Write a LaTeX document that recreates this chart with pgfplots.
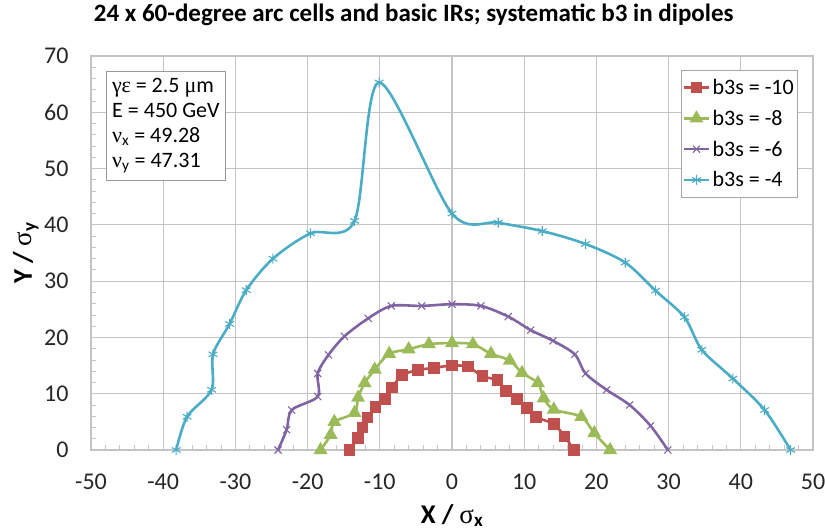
\documentclass[border=0pt]{standalone}
\usepackage{pgfplots}
\pgfplotsset{compat=1.18}
\usepackage{fontspec}
\setmainfont{Carlito}
\newfontfamily\grk{Liberation Serif}
\definecolor{cred}{HTML}{C0504D}
\definecolor{cgreen}{HTML}{9BBB59}
\definecolor{cpurple}{HTML}{8064A2}
\definecolor{ccyan}{HTML}{4BACC6}
\definecolor{gridc}{HTML}{C4C4C4}
\begin{document}
\begin{tikzpicture}
\useasboundingbox (0,0) rectangle (825pt,531pt);
\begin{axis}[
  at={(91pt,81pt)}, anchor=south west,
  scale only axis, width=722pt, height=394pt,
  xmin=-50, xmax=50, ymin=0, ymax=70,
  xtick={-50,-40,...,50}, ytick={0,10,...,70},
  minor x tick num=4, minor y tick num=4,
  xtick pos=bottom, ytick pos=left,
  tick align=inside,
  major tick length=0pt, minor tick length=5pt,
  minor tick style={gridc, line width=0.8pt},
  grid=major,
  major grid style={gridc, line width=1.1pt},
  axis line style={gridc, line width=1.1pt},
  /pgf/number format/assume math mode=true,
  ticklabel style={font=\fontsize{24}{28}\selectfont, text=black!85},
  xticklabel style={anchor=center, yshift=-32pt},
  yticklabel style={anchor=east, xshift=-19pt},
  title={24 x 60-degree arc cells and basic IRs; systematic b3 in dipoles},
  title style={font=\bfseries\fontsize{25}{29}\selectfont, at={(axis description cs:0.447,1)}, anchor=base, yshift=28.5pt},
  xlabel={X / {\grk\mdseries σ}\textsubscript{x}},
  ylabel={Y / {\grk\mdseries σ}\textsubscript{y}},
  label style={font=\bfseries\fontsize{27}{30}\selectfont},
  xlabel style={at={(axis description cs:0.5,0)}, anchor=base, yshift=-73pt},
  ylabel style={at={(axis description cs:0,0.5)}, anchor=base, yshift=59pt},
  legend style={draw=gray!70, at={(1,1)}, anchor=north east, xshift=-16pt, yshift=-14pt,
    font=\fontsize{22}{26}\selectfont, row sep=10pt, inner xsep=1pt, inner ysep=7pt},
  legend cell align=left,
  legend image code/.code={\draw[mark repeat=2,mark phase=2] plot coordinates {(0cm,0cm) (0.45cm,0cm) (0.9cm,0cm)};},
]
\addplot[cred, line width=2.6pt, smooth, mark=square*, mark size=4.5pt, mark options={solid}] coordinates {
(-14.2,0) (-13.0,2.1) (-12.4,4.0) (-11.7,5.8) (-10.6,7.6) (-9.3,9.1) (-8.3,11.1) (-6.9,13.3)
(-4.7,14.2) (-2.5,14.6) (0,15.0) (2.2,14.8) (4.2,13.1) (6.3,12.4) (7.5,10.5) (9.0,9.1)
(10.4,7.5) (11.6,5.9) (14.1,4.6) (15.6,2.4) (16.9,0)};
\addlegendentry{b3s = -10}
\addplot[cgreen, line width=2.6pt, smooth, mark=triangle*, mark size=5.5pt, mark options={solid}] coordinates {
(-18.2,0) (-16.8,2.7) (-16.3,5.0) (-13.5,6.6) (-13.0,9.3) (-12.1,11.9) (-10.7,14.3) (-8.7,17.1)
(-6.0,17.9) (-3.2,18.8) (0,19.0) (2.9,18.8) (5.4,17.1) (8.0,15.9) (9.7,13.7) (11.9,11.9)
(12.7,9.2) (14.1,7.2) (17.9,5.9) (19.7,3.0) (21.9,0)};
\addlegendentry{b3s = -8}
\addplot[cpurple, line width=2.6pt, smooth, mark=x, mark size=5pt, mark options={solid, line width=1.1pt}] coordinates {
(-24.1,0) (-22.9,3.6) (-22.2,7.1) (-18.6,9.5) (-18.6,13.6) (-17.1,16.9) (-14.9,20.2) (-11.6,23.4)
(-8.4,25.6) (-4.2,25.6) (0,25.9) (4.0,25.6) (7.8,23.7) (10.9,21.3) (14.0,19.4) (17.0,17.0)
(18.5,13.6) (21.4,10.7) (24.6,8.0) (27.5,4.3) (29.9,0)};
\addlegendentry{b3s = -6}
\addplot[ccyan, line width=2.6pt, smooth, mark=asterisk, mark size=5pt, mark options={solid, line width=1.1pt}] coordinates {
(-38.2,0) (-36.7,5.9) (-33.3,10.7) (-33.1,17.0) (-30.8,22.4) (-28.5,28.4) (-24.8,34.0) (-19.6,38.5)
(-13.5,40.7) (-10.1,65.3) (0,42.0) (6.4,40.4) (12.5,38.9) (18.5,36.6) (24.0,33.3) (28.2,28.3)
(32.2,23.6) (34.6,17.8) (38.9,12.7) (43.3,7.1) (46.9,0)};
\addlegendentry{b3s = -4}
\node[draw=gray!80, fill=white, anchor=north west, align=left, inner xsep=6pt, inner ysep=7pt,
  font=\fontsize{22}{25}\selectfont] at (rel axis cs:0.0208,0.9627)
  {{\grk γε} = 2.5 {\grk μ}m\\E = 450 GeV\\{\grk ν}\textsubscript{x} = 49.28\\{\grk ν}\textsubscript{y} = 47.31};
\end{axis}
\end{tikzpicture}
\end{document}
